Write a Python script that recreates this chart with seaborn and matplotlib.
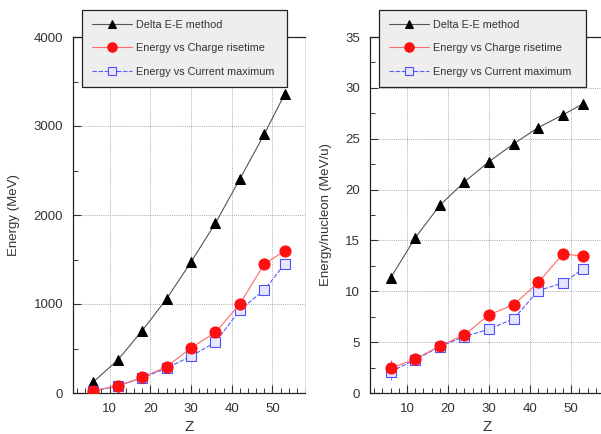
import matplotlib
matplotlib.use("Agg")
import matplotlib.pyplot as plt
import seaborn as sns
import numpy as np
import pandas as pd
from matplotlib.ticker import MultipleLocator

# ---- data ----
z = [6, 12, 18, 24, 30, 36, 42, 48, 53]
energy_dee = [125, 370, 700, 1058, 1472, 1908, 2405, 2908, 3358]
energy_charge = [25, 80, 176, 296, 506, 682, 1000, 1450, 1596]
energy_current = [20, 78, 170, 278, 414, 570, 933, 1157, 1450]

enuc_dee = [11.3, 15.25, 18.45, 20.75, 22.75, 24.5, 26.1, 27.35, 28.45]
enuc_charge = [2.43, 3.32, 4.63, 5.72, 7.69, 8.68, 10.88, 13.68, 13.45]
enuc_current = [2.1, 3.25, 4.57, 5.55, 6.28, 7.3, 10.06, 10.82, 12.23]
enuc_err = [0.8, 0, 0, 0, 0, 0, 0, 0, 0]

labels = ["Delta E-E method", "Energy vs Charge risetime", "Energy vs Current maximum"]

sns.set_style("ticks")
plt.rcParams['font.family'] = ['Liberation Sans', 'DejaVu Sans']

fig = plt.figure(figsize=(6.01, 4.34), dpi=100)
axL = fig.add_axes([73/601, 41/434, 232/601, 356/434])
axR = fig.add_axes([370/601, 41/434, 234/601, 356/434])

def draw(ax, d_dee, d_ch, d_cu, ylim, ymaj, ymin, ylabel, err=None):
    df = pd.DataFrame({"Z": z, "dee": d_dee, "ch": d_ch, "cu": d_cu})
    sns.lineplot(data=df, x="Z", y="dee", ax=ax, color="#555555", lw=0.8,
                 marker="^", markersize=7, markerfacecolor="black",
                 markeredgecolor="black", label=labels[0], zorder=3)
    if err is not None:
        ax.errorbar(z, d_ch, yerr=err, fmt="none", ecolor="#ff6060", elinewidth=0.8, zorder=2)
        ax.errorbar(z, d_cu, yerr=err, fmt="none", ecolor="#8080ff", elinewidth=0.8, zorder=2)
    sns.lineplot(data=df, x="Z", y="cu", ax=ax, color="#5a5aff", lw=0.8,
                 linestyle=(0, (4, 1.5)), marker="s", markersize=7.5,
                 markerfacecolor="#e6e6ff", markeredgecolor="#5050ff",
                 markeredgewidth=0.8, label=labels[2], zorder=3)
    sns.lineplot(data=df, x="Z", y="ch", ax=ax, color="#ff6a6a", lw=0.8,
                 marker="o", markersize=8, markerfacecolor="#ff1010",
                 markeredgecolor="#ff1010", label=labels[1], zorder=4)
    ax.set_xlim(1, 58)
    ax.set_ylim(*ylim)
    ax.xaxis.set_major_locator(MultipleLocator(10))
    ax.xaxis.set_minor_locator(MultipleLocator(2))
    ax.yaxis.set_major_locator(MultipleLocator(ymaj))
    ax.yaxis.set_minor_locator(MultipleLocator(ymin))
    ax.tick_params(which="major", direction="in", length=6, width=0.8,
                   labelsize=9.5, colors="#333333", labelcolor="#333333",
                   top=False, right=False, pad=7)
    ax.tick_params(which="minor", direction="in", length=3.5, width=0.7,
                   colors="#333333", top=False, right=False)
    ax.grid(True, which="major", linestyle=(0, (1, 1.2)), color="#aaaaaa", lw=0.7)
    for s in ["left", "bottom", "top"]:
        ax.spines[s].set_color("#222222")
        ax.spines[s].set_linewidth(0.9)
    ax.spines["right"].set_color("#dddddd")
    ax.spines["right"].set_linewidth(0.6)
    ax.set_xlabel("Z", fontsize=11, color="#333333", labelpad=4)
    ax.set_ylabel(ylabel, fontsize=9.5, color="#333333", labelpad=10)
    h, l = ax.get_legend_handles_labels()
    order = [l.index(t) for t in labels]
    leg = ax.legend([h[i] for i in order], [l[i] for i in order],
                    loc="upper left", bbox_to_anchor=(0.039, 1.076, 0.883, 0.0),
                    mode="expand", fontsize=7.8, frameon=True, fancybox=False,
                    framealpha=1, facecolor="#eeeeee", edgecolor="#222222",
                    handlelength=3.7, handletextpad=0.35, labelspacing=1.25,
                    borderpad=0.9, borderaxespad=0, markerscale=0.85)
    leg.get_frame().set_linewidth(0.9)
    for t in leg.get_texts():
        t.set_color("#333333")
    leg.set_zorder(10)

draw(axL, energy_dee, energy_charge, energy_current, (0, 4000), 1000, 500, "Energy (MeV)")
draw(axR, enuc_dee, enuc_charge, enuc_current, (0, 35), 5, 2.5, "Energy/nucleon (MeV/u)", err=enuc_err)

fig.savefig("out.png", dpi=100)
